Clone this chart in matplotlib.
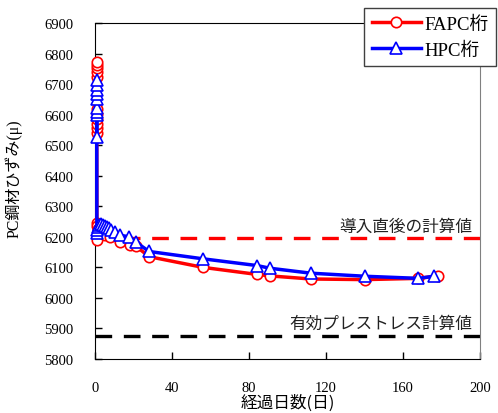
import numpy as np
import matplotlib
matplotlib.use("Agg")
import matplotlib.pyplot as plt

# ==== データ ====
fapc_days = [0.7, 0.7, 0.7, 0.7, 0.7, 0.7, 0.7, 0.7, 0.7, 0.7, 0.7,
             0.8, 1.0, 0.8, 1.5, 2.5, 3.5, 5, 7.8, 13, 18, 21,
             28, 56, 84, 91, 112, 140, 168, 178]
fapc_strain = [6540, 6555, 6570, 6587, 6603, 6620, 6723, 6738, 6752, 6763, 6772,
               6245, 6235, 6190, 6225, 6218, 6212, 6205, 6199, 6184, 6173, 6170,
               6135, 6100, 6077, 6072, 6062, 6060, 6064, 6072]

hpc_days = [0.7, 0.7, 0.7, 0.7, 0.7, 0.7, 0.7, 0.7, 0.7,
            0.8, 1.0, 1.5, 2, 3, 4, 5, 6, 7, 8, 10, 13, 17.7, 21,
            28, 56, 84, 91, 112, 140, 168, 176]
hpc_strain = [6527, 6598, 6610, 6622, 6652, 6667, 6682, 6697, 6712,
              6212, 6222, 6232, 6240, 6242, 6240, 6237, 6233, 6228, 6224, 6216, 6205, 6200, 6183,
              6152, 6128, 6106, 6097, 6081, 6071, 6064, 6071]

calc_initial = 6195      # 導入直後の計算値
calc_effective = 5876    # 有効プレストレス計算値

# ==== 図 ====
fig = plt.figure(figsize=(4.98, 4.14), dpi=100)
ax = fig.add_axes([0.1914, 0.1304, 0.7725, 0.8116])

serif = ['Liberation Serif', 'Noto Sans CJK JP']
cjk = ['Noto Sans CJK JP', 'DejaVu Sans']

ax.axhline(calc_initial, color='red', lw=2.4, dashes=(5, 3.5), zorder=1)
ax.axhline(calc_effective, color='black', lw=2.4, dashes=(5, 3.5), zorder=1)

ax.plot(fapc_days, fapc_strain, color='red', lw=2.5, marker='o', ms=7.5,
        mfc='white', mec='red', mew=1.2, label='FAPC桁', zorder=3, clip_on=False)
ax.plot(hpc_days, hpc_strain, color='blue', lw=2.5, marker='^', ms=8,
        mfc='white', mec='blue', mew=1.2, label='HPC桁', zorder=4, clip_on=False)

ax.text(196, calc_initial + 12, '導入直後の計算値', ha='right', va='bottom',
        fontsize=12, family=cjk, color='#222222')
ax.text(196, calc_effective + 12, '有効プレストレス計算値', ha='right', va='bottom',
        fontsize=12, family=cjk, color='#222222')

ax.set_xlim(0, 200)
ax.set_ylim(5800, 6900)
ax.set_xticks(np.arange(0, 201, 40))
ax.set_yticks(np.arange(5800, 6901, 100))
ax.tick_params(direction='in', length=5, width=1, pad=16, labelsize=10.5)
for lab in ax.get_xticklabels() + ax.get_yticklabels():
    lab.set_fontfamily(serif)

ax.spines['right'].set_color('#808080')

ax.set_xlabel('経過日数(日)', fontsize=12, family=cjk, va='center')
ax.xaxis.set_label_coords(0.5, -0.13)
ax.set_ylabel('PC鋼材ひずみ(μ)', fontsize=11.5, family=serif)
ax.yaxis.set_label_coords(-0.19, 0.54)

leg = ax.legend(loc='upper right', bbox_to_anchor=(0.996, 0.978),
                bbox_transform=fig.transFigure, prop={'family': serif, 'size': 13.5},
                fancybox=False, framealpha=1, edgecolor='#404040', borderaxespad=0,
                handlelength=2.6, borderpad=0.4, labelspacing=0.45, handletextpad=0.2)
leg.get_frame().set_linewidth(1.0)
leg.set_zorder(10)

fig.savefig('out.png', dpi=100)
